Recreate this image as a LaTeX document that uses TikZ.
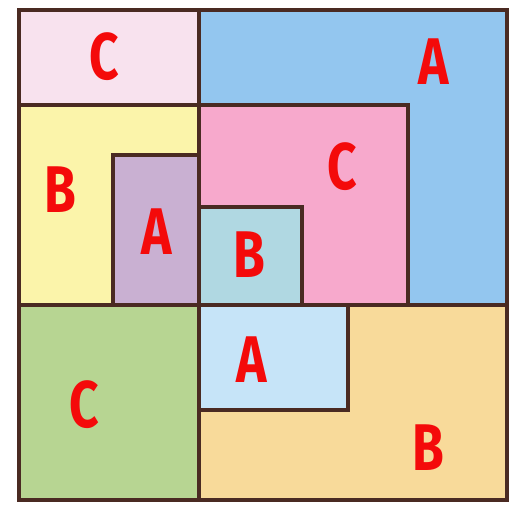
\documentclass[tikz,border=0pt]{standalone}
\usepackage{fontspec}
\setmainfont{Fira Sans}
\definecolor{linec}{HTML}{4A2A22}
\definecolor{cpinkl}{HTML}{F8E2EE}
\definecolor{cblue}{HTML}{93C6EF}
\definecolor{cyellow}{HTML}{FBF4AA}
\definecolor{cpurple}{HTML}{C9B0D2}
\definecolor{cpink}{HTML}{F7A9CC}
\definecolor{cteal}{HTML}{B0D8E2}
\definecolor{clblue}{HTML}{C6E4F8}
\definecolor{cgreen}{HTML}{B7D592}
\definecolor{corange}{HTML}{F8DA9A}
\definecolor{lab}{HTML}{F40A0A}
\tikzset{
  wall/.style={draw=linec, line width=4pt, line cap=rect},
  letter/.style={text=lab, font=\fontsize{66}{66}\selectfont\bfseries, inner sep=0pt}
}
\newcommand{\lt}[1]{\scalebox{0.78}[1]{#1}}
\begin{document}
\begin{tikzpicture}[x=1pt,y=-1pt]
\useasboundingbox (0,0) rectangle (512,504);
\fill[white] (0,0) rectangle (512,504);
% fills
\fill[cpinkl] (19,10) rectangle (199,105);
\fill[cblue] (199,10) rectangle (507,305);
\fill[cyellow] (19,105) rectangle (199,305);
\fill[cpurple] (113,155) rectangle (199,305);
\fill[cpink] (199,105) rectangle (408,305);
\fill[cteal] (199,207) rectangle (302,305);
\fill[cgreen] (19,305) rectangle (199,500);
\fill[corange] (199,305) rectangle (507,500);
\fill[clblue] (199,305) rectangle (348,410);
% walls
\draw[wall] (19,10) rectangle (507,500);
\draw[wall] (199,10) -- (199,500);
\draw[wall] (19,105) -- (408,105) -- (408,305);
\draw[wall] (19,305) -- (507,305);
\draw[wall] (113,305) -- (113,155) -- (199,155);
\draw[wall] (199,207) -- (302,207) -- (302,305);
\draw[wall] (199,410) -- (348,410) -- (348,305);
% labels
\node[letter] (l1) at (104,57) {\lt{C}};
\node[letter] (l2) at (434,62) {\lt{A}};
\node[letter] (l3) at (60,190) {\lt{B}};
\node[letter] (l4) at (157,232) {\lt{A}};
\node[letter] (l5) at (342,167) {\lt{C}};
\node[letter] (l6) at (249,255) {\lt{B}};
\node[letter] (l7) at (252,360) {\lt{A}};
\node[letter] (l8) at (84,405) {\lt{C}};
\node[letter] (l9) at (428,448) {\lt{B}};
\end{tikzpicture}
\end{document}
